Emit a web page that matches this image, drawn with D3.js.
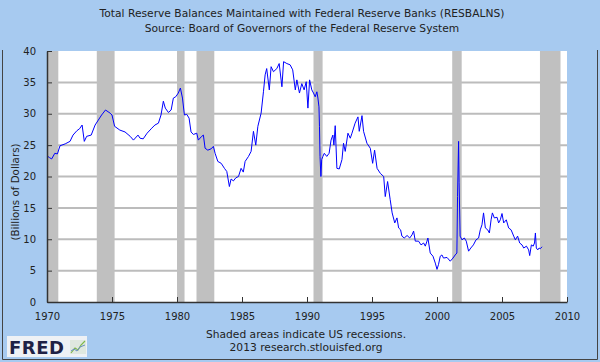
<!DOCTYPE html>
<html>
<head>
    <title>Total Reserve Balances Maintained with Federal Reserve Banks</title>
    <script src="https://d3js.org/d3.v7.min.js"></script>
    <style>
        body {
            margin: 0;
            padding: 0;
            background-color: #ffffff;
        }
        svg text {
            font-family: 'DejaVu Sans', Verdana, sans-serif;
            fill: #222222;
        }
        .line {
            fill: none;
            stroke: #0000ff;
            stroke-width: 1px;
        }
    </style>
</head>
<body>
    <div id="chart"></div>

    <script>
        const dates = [
            1970.00, 1970.20, 1970.36, 1970.60, 1970.80, 1971.00, 1971.40, 1971.77, 1972.00, 1972.30,
            1972.50, 1972.70, 1972.87, 1973.05, 1973.40, 1973.70, 1973.95, 1974.20, 1974.50, 1974.85,
            1975.00, 1975.20, 1975.60, 1976.00, 1976.40, 1976.65, 1977.00, 1977.16, 1977.40, 1977.70,
            1978.06, 1978.30, 1978.57, 1978.77, 1978.95, 1979.10, 1979.34, 1979.55, 1979.72, 1979.90,
            1980.10, 1980.26, 1980.42, 1980.57, 1980.75, 1980.93, 1981.08, 1981.26, 1981.52, 1981.64,
            1981.90, 1982.03, 1982.16, 1982.37, 1982.62, 1982.80, 1982.93, 1983.14, 1983.40, 1983.65,
            1983.83, 1984.03, 1984.16, 1984.34, 1984.53, 1984.73, 1984.93, 1985.10, 1985.24, 1985.50,
            1985.70, 1985.88, 1986.06, 1986.22, 1986.47, 1986.65, 1986.78, 1986.90, 1987.10, 1987.24,
            1987.42, 1987.68, 1987.86, 1988.07, 1988.20, 1988.45, 1988.70, 1988.90, 1989.10, 1989.22,
            1989.42, 1989.60, 1989.78, 1989.94, 1990.07, 1990.20, 1990.37, 1990.50, 1990.63, 1990.76,
            1990.84, 1990.92, 1990.96, 1991.00, 1991.07, 1991.13, 1991.22, 1991.33, 1991.52, 1991.70,
            1991.85, 1991.99, 1992.07, 1992.17, 1992.30, 1992.48, 1992.69, 1992.81, 1992.94, 1993.15,
            1993.33, 1993.46, 1993.70, 1993.92, 1994.02, 1994.23, 1994.35, 1994.61, 1994.87, 1995.05,
            1995.20, 1995.39, 1995.64, 1995.90, 1996.02, 1996.20, 1996.40, 1996.55, 1996.75, 1996.92,
            1997.05, 1997.20, 1997.30, 1997.48, 1997.70, 1997.90, 1998.08, 1998.20, 1998.33, 1998.58,
            1998.77, 1998.97, 1999.10, 1999.23, 1999.30, 1999.48, 1999.69, 1999.87, 2000.00, 2000.12,
            2000.25, 2000.38, 2000.50, 2000.77, 2001.02, 2001.23, 2001.40, 2001.53, 2001.58, 2001.66,
            2001.70, 2001.78, 2001.92, 2002.10, 2002.25, 2002.43, 2002.60, 2002.80, 2003.00, 2003.20,
            2003.33, 2003.46, 2003.58, 2003.72, 2003.90, 2004.03, 2004.16, 2004.26, 2004.41, 2004.62,
            2004.74, 2004.87, 2005.00, 2005.13, 2005.33, 2005.51, 2005.70, 2005.90, 2006.03, 2006.20,
            2006.36, 2006.54, 2006.67, 2006.88, 2007.05, 2007.13, 2007.26, 2007.40, 2007.50, 2007.57,
            2007.64, 2007.75, 2007.85, 2007.95, 2008.08
        ];

        const reserves = [
            23.3, 23.0, 22.8, 23.7, 23.6, 24.9, 25.2, 25.6, 26.6, 27.3,
            27.6, 28.2, 25.6, 26.4, 26.6, 28.2, 29.0, 29.8, 30.6, 30.1,
            29.8, 28.0, 27.4, 27.1, 26.4, 25.8, 26.6, 26.1, 26.0, 26.9,
            27.7, 28.2, 28.5, 29.8, 32.0, 30.9, 30.2, 30.6, 32.5, 32.7,
            33.3, 34.1, 32.5, 29.8, 29.9, 29.3, 27.1, 26.7, 26.9, 25.8,
            26.4, 26.6, 24.5, 24.2, 24.4, 24.8, 23.7, 22.4, 22.1, 21.3,
            20.8, 18.4, 19.6, 19.3, 19.8, 20.0, 21.3, 20.7, 22.4, 23.2,
            24.0, 27.2, 25.0, 28.0, 30.1, 33.5, 36.2, 37.2, 33.8, 37.5,
            36.7, 37.2, 38.0, 34.3, 38.3, 38.0, 37.8, 37.0, 33.8, 35.4,
            33.3, 34.8, 33.8, 35.1, 30.9, 35.4, 33.8, 33.3, 32.7, 33.5,
            32.5, 31.1, 28.0, 23.2, 20.0, 22.7, 23.2, 23.7, 23.2, 23.7,
            25.8, 26.6, 25.0, 28.1, 21.3, 21.2, 22.7, 25.3, 24.0, 26.9,
            26.1, 26.9, 28.5, 29.5, 27.2, 29.7, 27.2, 25.3, 24.5, 22.1,
            24.2, 21.3, 20.5, 20.0, 16.8, 19.2, 16.3, 14.2, 12.6, 13.4,
            11.8, 11.5, 10.5, 10.2, 10.6, 10.2, 10.7, 11.3, 9.7, 9.7,
            9.1, 9.4, 8.9, 9.7, 10.2, 7.8, 7.3, 6.2, 5.2, 6.0,
            7.3, 7.5, 7.0, 7.1, 6.5, 7.0, 7.5, 7.8, 16.8, 25.6,
            19.0, 10.5, 9.9, 10.2, 9.7, 8.1, 8.6, 9.1, 9.9, 10.2,
            11.5, 12.3, 14.2, 11.8, 11.5, 11.0, 13.1, 14.2, 13.4, 13.5,
            12.6, 13.1, 14.1, 12.6, 13.1, 11.8, 11.5, 10.5, 9.9, 10.5,
            9.4, 9.1, 8.6, 8.9, 8.3, 7.4, 9.1, 8.9, 9.4, 11.0,
            8.6, 8.3, 8.6, 8.5, 8.8
        ];

        const recessionStart = [1969.92, 1973.83, 1980.0, 1981.5, 1990.5, 2001.17, 2007.92];
        const recessionEnd = [1970.87, 1975.2, 1980.58, 1982.87, 1991.2, 2001.9, 2009.5];

        const xTicks = [1970, 1975, 1980, 1985, 1990, 1995, 2000, 2005, 2010];
        const yTicks = [0, 5, 10, 15, 20, 25, 30, 35, 40];

        const titleLines = [
            "Total Reserve Balances Maintained with Federal Reserve Banks (RESBALNS)",
            "Source: Board of Governors of the Federal Reserve System"
        ];
        const footLines = [
            "Shaded areas indicate US recessions.",
            "2013 research.stlouisfed.org"
        ];

        const W = 600, H = 362;
        const margin = {top: 51, right: 33, bottom: 60, left: 47},
            width = W - margin.left - margin.right,
            height = H - margin.top - margin.bottom;

        const root = d3.select("#chart")
            .append("svg")
                .attr("width", W)
                .attr("height", H);

        // background and frame
        root.append("rect")
            .attr("width", W)
            .attr("height", H)
            .attr("fill", "#a7caf0");
        root.append("path")
            .attr("d", "M2.5,50V359.5H597.5V50")
            .attr("fill", "none")
            .attr("stroke", "#444")
            .attr("stroke-width", 1);

        root.selectAll(".title")
            .data(titleLines)
            .enter().append("text")
                .attr("class", "title")
                .attr("x", 302)
                .attr("y", (d, i) => 16.5 + i * 15)
                .attr("text-anchor", "middle")
                .style("font-size", "10.7px")
                .text(d => d);

        root.selectAll(".foot")
            .data(footLines)
            .enter().append("text")
                .attr("class", "foot")
                .attr("x", 306)
                .attr("y", (d, i) => 338 + i * 13)
                .attr("text-anchor", "middle")
                .style("font-size", "10.7px")
                .text(d => d);

        const svg = root.append("g")
            .attr("transform", "translate(" + margin.left + "," + margin.top + ")");

        const x = d3.scaleLinear()
            .domain([1970, 2010])
            .range([0, width]);

        const y = d3.scaleLinear()
            .domain([0, 40])
            .range([height, 0]);

        svg.append("rect")
            .attr("width", width)
            .attr("height", height)
            .attr("fill", "#ffffff");

        svg.selectAll(".grid")
            .data(yTicks.filter(d => d > 0 && d < 40))
            .enter().append("line")
                .attr("class", "grid")
                .attr("x1", 0)
                .attr("x2", width)
                .attr("y1", d => y(d))
                .attr("y2", d => y(d))
                .attr("stroke", "#bcbcbc")
                .attr("stroke-width", 2);

        svg.selectAll(".recession")
            .data(recessionStart)
            .enter().append("rect")
                .attr("class", "recession")
                .attr("x", d => x(Math.max(d, 1970)))
                .attr("y", 0)
                .attr("width", (d, i) => x(recessionEnd[i]) - x(Math.max(d, 1970)))
                .attr("height", height)
                .attr("fill", "#c0c0c0");

        const data = dates.map((d, i) => ({date: d, value: reserves[i]}));

        const line = d3.line()
            .x(d => x(d.date))
            .y(d => y(d.value));

        svg.append("path")
            .datum(data)
            .attr("class", "line")
            .attr("d", line);

        const xAxis = svg.append("g")
            .attr("transform", "translate(0," + height + ")")
            .call(d3.axisBottom(x).tickValues(xTicks).tickFormat(d3.format("d")).tickSizeInner(-5).tickSizeOuter(0).tickPadding(11));

        const yAxis = svg.append("g")
            .call(d3.axisLeft(y).tickValues(yTicks).tickSizeInner(-5).tickSizeOuter(0).tickPadding(11));

        [xAxis, yAxis].forEach(function(ax) {
            ax.select(".domain").attr("stroke", "#333").attr("stroke-width", 1.5);
            ax.selectAll(".tick line").attr("stroke", "#333");
            ax.selectAll("text")
                .style("font-family", "'DejaVu Sans', Verdana, sans-serif")
                .style("font-size", "10px")
                .attr("fill", "#222");
        });

        root.append("text")
            .attr("transform", "translate(18.5,192) rotate(-90)")
            .attr("text-anchor", "middle")
            .style("font-size", "10.3px")
            .text("(Billions of Dollars)");

        // FRED logo
        const logo = root.append("g")
            .attr("transform", "translate(7,336)");
        logo.append("rect")
            .attr("width", 80)
            .attr("height", 21)
            .attr("fill", "#eef1f5");
        logo.append("text")
            .attr("x", 2)
            .attr("y", 18)
            .style("font-size", "18px")
            .style("font-weight", "bold")
            .style("letter-spacing", "0.5px")
            .style("fill", "#1e2145")
            .text("FRED");
        logo.append("rect")
            .attr("x", 63)
            .attr("y", 4)
            .attr("width", 16)
            .attr("height", 14)
            .attr("fill", "#dfe8e0");
        logo.append("path")
            .attr("d", "M64,17L68,12L71,14L74,9L78,5")
            .attr("fill", "none")
            .attr("stroke", "#7fb84a")
            .attr("stroke-width", 1.2);
        logo.append("path")
            .attr("d", "M64,15L67,13L70,15L73,11L78,9")
            .attr("fill", "none")
            .attr("stroke", "#6a8fc0")
            .attr("stroke-width", 1);
    </script>
</body>
</html>
